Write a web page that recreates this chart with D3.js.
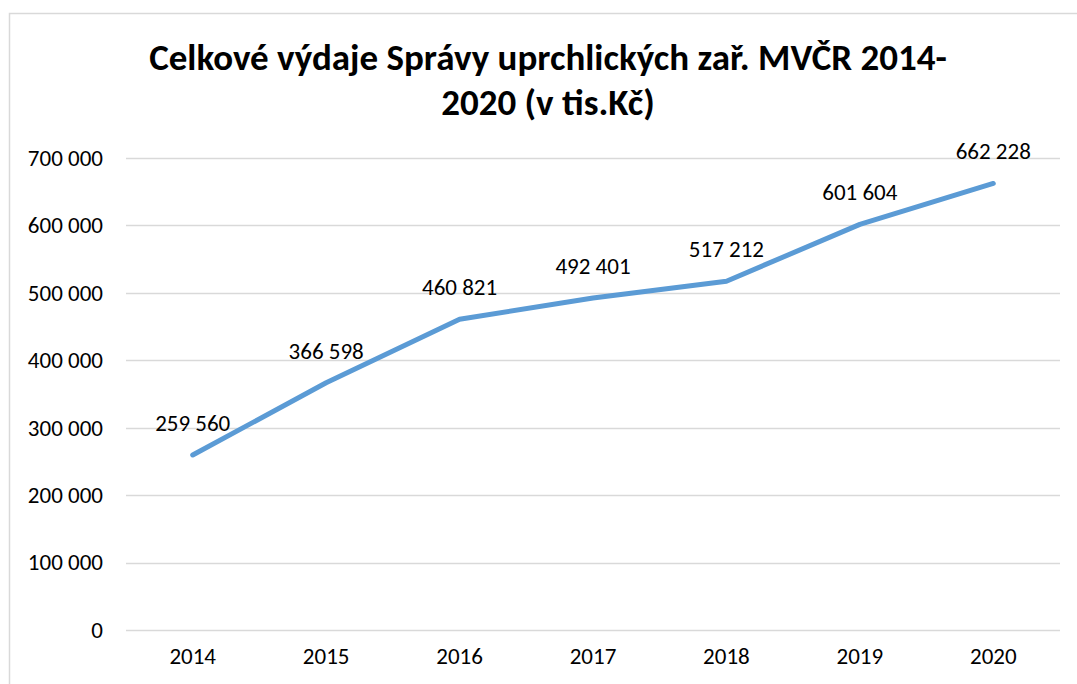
<!DOCTYPE html>
<html>
<head>
<meta charset="utf-8">
<script src="https://cdn.jsdelivr.net/npm/d3@7"></script>
<style>
  body { margin: 0; background: #fff; }
  text { font-family: Carlito, "Liberation Sans", "Open Sans", sans-serif; }
</style>
</head>
<body>
<svg id="chart" width="1077" height="684"></svg>
<script>
// données
const years = ["2014", "2015", "2016", "2017", "2018", "2019", "2020"]
const spending = [259560, 366598, 460821, 492401, 517212, 601604, 662228]
const yTicks = [0, 100000, 200000, 300000, 400000, 500000, 600000, 700000]
const titleLines = ["Celkové výdaje Správy uprchlických zař. MVČR 2014-", "2020 (v tis.Kč)"]

const svg = d3.select("#chart")

// cadre
svg.append("rect")
    .attr("x", 9.5)
    .attr("y", 13.5)
    .attr("width", 1100)
    .attr("height", 700)
    .attr("fill", "white")
    .attr("stroke", "#d9d9d9")
    .attr("stroke-width", 1.5)

const margin = { top: 158, right: 17, bottom: 54, left: 126 },
    width = 1077 - margin.left - margin.right,
    height = 684 - margin.top - margin.bottom

const g = svg.append("g")
    .attr("transform", `translate(${margin.left}, ${margin.top})`)

const x = d3.scaleBand()
    .domain(years)
    .range([0, width])

const y = d3.scaleLinear()
    .domain([0, 700000])
    .range([height, 0])

const fmt = v => d3.format(",")(v).replace(/,/g, " ")

// grille
g.append("g")
    .selectAll("line")
    .data(yTicks)
    .enter()
    .append("line")
    .attr("x1", 0)
    .attr("x2", width)
    .attr("y1", d => Math.round(y(d)) + 0.5)
    .attr("y2", d => Math.round(y(d)) + 0.5)
    .attr("stroke", "#d9d9d9")
    .attr("stroke-width", 1.5)

// axe y
const yAxis = g.append("g")
    .call(d3.axisLeft(y).tickValues(yTicks).tickFormat(fmt).tickSize(0).tickPadding(23))
yAxis.select(".domain").remove()
yAxis.selectAll("text")
    .style("font-size", "23px")
    .attr("fill", "#000")

// axe x
const xAxis = g.append("g")
    .attr("transform", `translate(0, ${height})`)
    .call(d3.axisBottom(x).tickSize(0).tickPadding(18))
xAxis.select(".domain").remove()
xAxis.selectAll("text")
    .style("font-size", "23px")
    .attr("fill", "#000")

// ligne
const line = d3.line()
    .x((d, i) => x(years[i]) + x.bandwidth() / 2)
    .y(d => y(d))

g.append("path")
    .datum(spending)
    .attr("d", line)
    .attr("fill", "none")
    .attr("stroke", "#5b9bd5")
    .attr("stroke-width", 5)
    .attr("stroke-linejoin", "round")
    .attr("stroke-linecap", "round")

// étiquettes
g.append("g")
    .selectAll("text")
    .data(spending)
    .enter()
    .append("text")
    .attr("x", (d, i) => x(years[i]) + x.bandwidth() / 2)
    .attr("y", d => y(d) - 24)
    .attr("text-anchor", "middle")
    .style("font-size", "23px")
    .text(d => fmt(d))

// titre
svg.append("g")
    .selectAll("text")
    .data(titleLines)
    .enter()
    .append("text")
    .attr("x", 548)
    .attr("y", (d, i) => 70 + i * 45)
    .attr("text-anchor", "middle")
    .style("font-size", "37px")
    .style("font-weight", "bold")
    .text(d => d)
</script>
</body>
</html>
